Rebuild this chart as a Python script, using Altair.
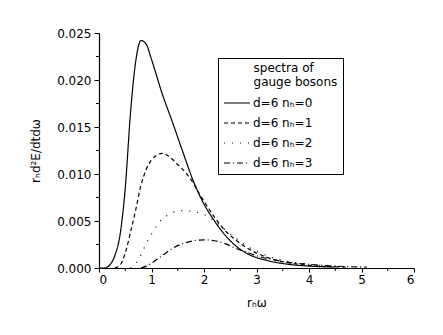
import altair as alt
import pandas as pd

# ---- data ----
labels = ["d=6  nₕ=0", "d=6  nₕ=1", "d=6  nₕ=2", "d=6  nₕ=3"]

x_n0 = [0, 0.1, 0.2, 0.3, 0.4, 0.5, 0.6, 0.7, 0.8, 0.9, 1.0, 1.2, 1.4, 1.6, 1.8, 2.0, 2.2, 2.5, 2.8, 3.2, 3.6, 4.0, 4.5]
y_n0 = [0, 0, 0.0003, 0.0013, 0.0035, 0.0085, 0.0165, 0.0220, 0.0242, 0.0238, 0.0222, 0.0186, 0.0155, 0.0123, 0.0092, 0.0068, 0.0050, 0.0029, 0.0016, 0.0008, 0.0004, 0.0002, 0.0001]

x_n1 = [0.3, 0.4, 0.5, 0.6, 0.7, 0.8, 0.9, 1.0, 1.1, 1.2, 1.3, 1.5, 1.7, 1.8, 1.9, 2.0, 2.2, 2.4, 2.6, 2.8, 3.0, 3.4, 3.8, 4.2, 4.7]
y_n1 = [0, 0.0003, 0.0016, 0.0038, 0.0062, 0.0088, 0.0105, 0.0115, 0.0120, 0.0122, 0.0120, 0.0110, 0.0098, 0.0090, 0.0080, 0.0071, 0.0054, 0.0040, 0.0030, 0.0022, 0.0016, 0.0008, 0.0004, 0.0002, 0.0001]

x_n2 = [0.6, 0.7, 0.8, 0.9, 1.0, 1.1, 1.2, 1.3, 1.4, 1.6, 1.8, 2.0, 2.2, 2.4, 2.6, 2.8, 3.0, 3.3, 3.6, 4.0, 4.4, 4.8]
y_n2 = [0, 0.0005, 0.0014, 0.0026, 0.0036, 0.0045, 0.0052, 0.0056, 0.0059, 0.0061, 0.0060, 0.0057, 0.0050, 0.0041, 0.0032, 0.0024, 0.0018, 0.0011, 0.0007, 0.0004, 0.0002, 0.0001]

x_n3 = [0.8, 0.9, 1.0, 1.1, 1.2, 1.4, 1.6, 1.8, 2.0, 2.2, 2.4, 2.6, 2.8, 3.0, 3.3, 3.6, 4.0, 4.5, 5.1]
y_n3 = [0, 0.0002, 0.0005, 0.0009, 0.0013, 0.0021, 0.0026, 0.0029, 0.0030, 0.0029, 0.0026, 0.0021, 0.0017, 0.0013, 0.0009, 0.0006, 0.0004, 0.0002, 0.0001]

x_major = [0, 1, 2, 3, 4, 5, 6]
x_minor = [0.5, 1.5, 2.5, 3.5, 4.5, 5.5]
y_major = [0.0, 0.005, 0.010, 0.015, 0.020, 0.025]
y_minor = [0.0025, 0.0075, 0.0125, 0.0175, 0.0225]

# zero-width space keeps the non-breaking indent from being trimmed
indent = "\u200b" + "\u00a0" * 8
legend_title = [indent + "spectra of", indent + "gauge bosons"]

dashes = [[1, 0], [4, 3], [1, 7], [6, 3, 1, 3]]

rows = []
for lab, xs, ys in zip(labels, [x_n0, x_n1, x_n2, x_n3], [y_n0, y_n1, y_n2, y_n3]):
    for i, (a, b) in enumerate(zip(xs, ys)):
        rows.append({"x": a, "y": b, "series": lab, "order": i})
df = pd.DataFrame(rows)

FONT = "DejaVu Sans"
xscale = alt.Scale(domain=[0, 6], nice=False, zero=False)
yscale = alt.Scale(domain=[0, 0.025], nice=False, zero=False)

lines = alt.Chart(df).mark_line(color="black", strokeWidth=1.2, interpolate="monotone", clip=True).encode(
    x=alt.X("x:Q", scale=xscale, axis=alt.Axis(values=x_major, format="d", title="rₕω",
                                                 tickSize=4, labelPadding=2, titlePadding=12)),
    y=alt.Y("y:Q", scale=yscale, axis=alt.Axis(values=y_major, format=".3f", title="rₕd²E/dtdω",
                                                 tickSize=5, labelPadding=3, titlePadding=14)),
    strokeDash=alt.StrokeDash("series:N", sort=labels,
                              scale=alt.Scale(domain=labels, range=dashes),
                              legend=alt.Legend(title=legend_title,
                                                orient="none", legendX=119, legendY=25,
                                                symbolType="stroke", symbolStrokeColor="black",
                                                symbolStrokeWidth=1.2, symbolSize=676,
                                                fillColor="white", strokeColor="black",
                                                padding=5, rowPadding=-8, labelOffset=2,
                                                titleAnchor="start", titleAlign="left",
                                                titleFontWeight="normal", titleFontSize=12,
                                                titleLineHeight=14,
                                                titleFont=FONT, labelFont=FONT, labelFontSize=12,
                                                titleColor="black", labelColor="black",
                                                titlePadding=0)),
    order="order:Q",
)

xminor = alt.Chart(pd.DataFrame({"m": x_minor})).mark_rule(color="black", strokeWidth=1).encode(
    x=alt.X("m:Q", scale=xscale), y=alt.value(235), y2=alt.value(238))
yminor = alt.Chart(pd.DataFrame({"m": y_minor})).mark_rule(color="black", strokeWidth=1).encode(
    y=alt.Y("m:Q", scale=yscale), x=alt.value(0), x2=alt.value(-3))

chart = alt.layer(lines, xminor, yminor).properties(
    width=315, height=235,
    autosize=alt.AutoSizeParams(type="none"),
    padding={"left": 91, "top": 25, "right": 21, "bottom": 59},
).configure_view(stroke=None).configure_axis(
    domainColor="black", tickColor="black", labelColor="black", titleColor="black",
    grid=False, labelFont=FONT, titleFont=FONT, labelFontSize=12, titleFontSize=12,
    titleFontWeight="normal", domainWidth=1.2, tickWidth=1,
)

chart.save("out.html", embed_options={"renderer": "svg", "actions": False})
